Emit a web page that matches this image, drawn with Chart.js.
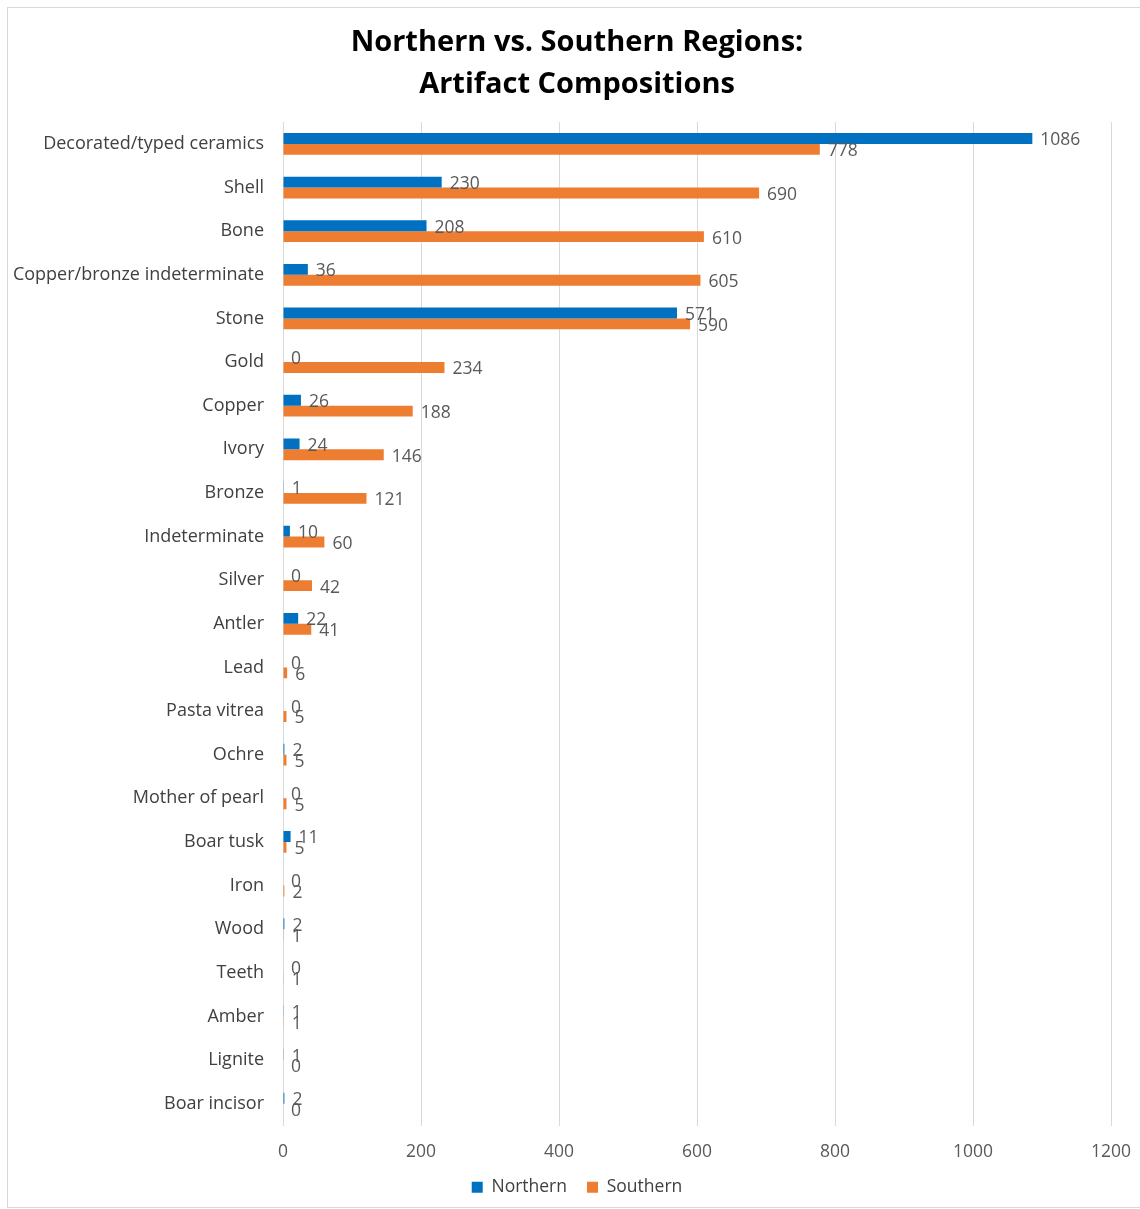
<!DOCTYPE html>
<html>
<head>
<meta charset="utf-8">
<script src="https://cdn.jsdelivr.net/npm/chart.js@4.4.1/dist/chart.umd.min.js"></script>
<style>
  html, body { margin: 0; padding: 0; background: #fff; }
  #wrap { position: relative; width: 1140px; height: 1209px; }
  #frame { position: absolute; left: 7px; top: 7px; width: 1140px; height: 1199px; border: 1px solid #d9d9d9; pointer-events: none; }
  canvas { position: absolute; left: 0; top: 0; }
</style>
</head>
<body>
<div id="wrap">
  <canvas id="chart" width="1140" height="1209"></canvas>
  <div id="frame"></div>
</div>
<script>
// categorias, de arriba a abajo
const categorias = [
  'Decorated/typed ceramics', 'Shell', 'Bone', 'Copper/bronze indeterminate', 'Stone',
  'Gold', 'Copper', 'Ivory', 'Bronze', 'Indeterminate', 'Silver', 'Antler', 'Lead',
  'Pasta vitrea', 'Ochre', 'Mother of pearl', 'Boar tusk', 'Iron', 'Wood', 'Teeth',
  'Amber', 'Lignite', 'Boar incisor'
];
const northern = [1086, 230, 208, 36, 571, 0, 26, 24, 1, 10, 0, 22, 0, 0, 2, 0, 11, 0, 2, 0, 1, 1, 2];
const southern = [778, 690, 610, 605, 590, 234, 188, 146, 121, 60, 42, 41, 6, 5, 5, 5, 5, 2, 1, 1, 1, 0, 0];
const xTicks = [0, 200, 400, 600, 800, 1000, 1200];

const FONT = '"Open Sans", "DejaVu Sans", sans-serif';
const LEGEND_PAD = 20;

// Etiquetas de valor al final de cada barra
const etiquetasPlugin = {
  id: 'etiquetas',
  afterDatasetsDraw(chart) {
    const ctx = chart.ctx;
    ctx.save();
    ctx.font = '17.5px ' + FONT;
    ctx.fillStyle = '#595959';
    ctx.textAlign = 'left';
    ctx.textBaseline = 'middle';
    chart.data.datasets.forEach((ds, i) => {
      const meta = chart.getDatasetMeta(i);
      meta.data.forEach((bar, j) => {
        ctx.fillText(String(ds.data[j]), bar.x + 8, bar.y + 2);
      });
    });
    ctx.restore();
  }
};

// Ajustes tras el layout: que las etiquetas largas del eje y no se recorten
const ajustePlugin = {
  id: 'ajuste',
  afterLayout(chart) {
    chart.scales.y.left = 0;
    chart.scales.x.bottom += LEGEND_PAD;
  }
};

new Chart(document.getElementById('chart'), {
  type: 'bar',
  data: {
    labels: categorias,
    datasets: [
      { label: 'Northern', data: northern, backgroundColor: '#0070c0', categoryPercentage: 0.5, barPercentage: 1.0 },
      { label: 'Southern', data: southern, backgroundColor: '#ed7d31', categoryPercentage: 0.5, barPercentage: 1.0 }
    ]
  },
  options: {
    indexAxis: 'y',
    responsive: false,
    animation: false,
    layout: { padding: { left: 43, right: 29, top: 0, bottom: 3 } },
    plugins: {
      title: {
        display: true,
        text: ['Northern vs. Southern Regions:', 'Artifact Compositions'],
        color: '#000',
        font: { family: FONT, size: 29, weight: 'bold', lineHeight: 1.45 },
        padding: { top: 22, bottom: 16 }
      },
      legend: {
        position: 'bottom',
        labels: {
          boxWidth: 11, boxHeight: 11, padding: LEGEND_PAD,
          color: '#404040',
          font: { family: FONT, size: 17.5 }
        }
      },
      tooltip: { enabled: false }
    },
    scales: {
      x: {
        min: 0, max: 1200,
        afterBuildTicks: (s) => { s.ticks = xTicks.map(v => ({ value: v })); },
        afterFit: (s) => { s.paddingRight = 0; s.height -= LEGEND_PAD; },
        grid: { color: '#d9d9d9', drawTicks: false },
        border: { display: false },
        ticks: { color: '#595959', padding: 16, callback: (v) => String(v), font: { family: FONT, size: 17.5 } }
      },
      y: {
        afterFit: (s) => { s.width = 240; },
        grid: { display: false, drawTicks: false },
        border: { display: true, color: '#d9d9d9' },
        ticks: { color: '#404040', padding: 19, autoSkip: false, font: { family: FONT, size: 18 } }
      }
    }
  },
  plugins: [etiquetasPlugin, ajustePlugin]
});
</script>
</body>
</html>
